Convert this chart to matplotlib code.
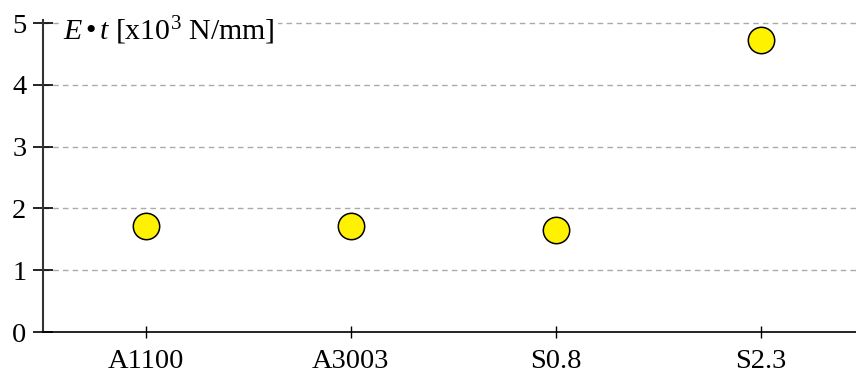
import matplotlib
matplotlib.use('Agg')
import matplotlib.pyplot as plt

plt.rcParams['font.family'] = ['Liberation Serif', 'DejaVu Serif']
plt.rcParams['mathtext.fontset'] = 'custom'
plt.rcParams['mathtext.rm'] = 'Liberation Serif'
plt.rcParams['mathtext.it'] = 'Liberation Serif:italic'

# data
materials = ['A1100', 'A3003', 'S0.8', 'S2.3']
stiffness = [1.72, 1.72, 1.65, 4.73]   # E*t in 10^3 N/mm
y_ticks = [0, 1, 2, 3, 4, 5]

fig = plt.figure(figsize=(8.56, 3.76), dpi=100)
ax = fig.add_axes([0.0502, 0.117, 0.9498, 0.83])

x = range(len(materials))
ax.plot(x, stiffness, linestyle='none', marker='o', markersize=19,
        markerfacecolor='#fff200', markeredgecolor='black', markeredgewidth=1.1, zorder=3)

ax.set_xlim(-0.502, 3.464)
ax.set_ylim(0, 5.05)
ax.set_xticks(list(x))
ax.set_xticklabels(materials)
ax.set_yticks(y_ticks)
ax.tick_params(axis='both', labelsize=20.5, colors='black')
ax.tick_params(axis='y', direction='inout', length=14, width=1.2, pad=5)
ax.tick_params(axis='x', direction='inout', length=8, width=1.0, pad=8)

for v in y_ticks[1:]:
    ax.axhline(v, color='#aaaaaa', linestyle=(0, (4, 3)), linewidth=1.0, zorder=1)

ax.spines['top'].set_visible(False)
ax.spines['right'].set_visible(False)
ax.spines['left'].set_linewidth(1.5)
ax.spines['left'].set_color('#333333')
ax.spines['bottom'].set_linewidth(1.2)

ax.text(0.025, 4.88, r'$E\,$•$\,t$ [x10$^3$ N/mm]', fontsize=21.5, ha='left', va='center',
        bbox=dict(facecolor='white', edgecolor='none', pad=2), zorder=4,
        transform=ax.get_yaxis_transform())

fig.savefig('out.png', dpi=100)
